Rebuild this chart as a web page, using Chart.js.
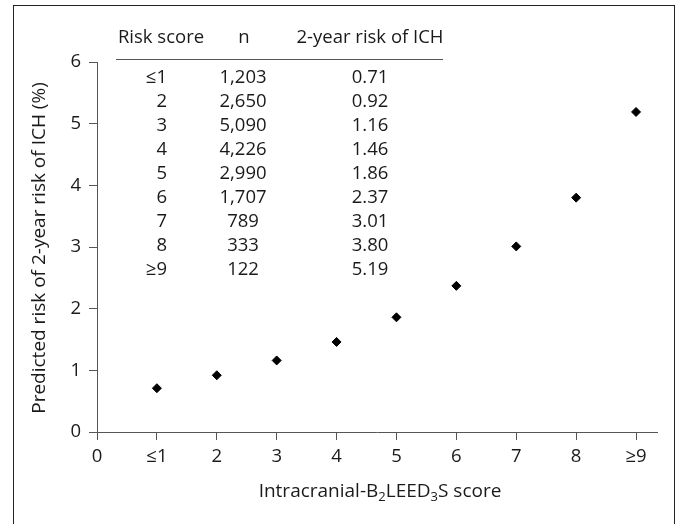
<!DOCTYPE html>
<html>
<head>
<meta charset="utf-8">
<script src="https://cdn.jsdelivr.net/npm/chart.js@4.4.1/dist/chart.umd.min.js"></script>
<style>
    html, body { margin: 0; padding: 0; background: #fff; }
    canvas { display: block; }
</style>
</head>
<body>
<canvas id="graficoRisco" width="678" height="524"></canvas>
<script>
var riskScores = ['≤1', '2', '3', '4', '5', '6', '7', '8', '≥9'];
var patients = [1203, 2650, 5090, 4226, 2990, 1707, 789, 333, 122];
var riskIch = [0.71, 0.92, 1.16, 1.46, 1.86, 2.37, 3.01, 3.80, 5.19];
var xTickLabels = ['0', '≤1', '2', '3', '4', '5', '6', '7', '8', '≥9'];
var yTickValues = [0, 1, 2, 3, 4, 5, 6];
var tableHeader = ['Risk score', 'n', '2-year risk of ICH'];
var yTitle = 'Predicted risk of 2-year risk of ICH (%)';

(function (window, document) {
    'use strict';

    var FONT = '"Open Sans", "Noto Sans", sans-serif';
    var TEXT = '#1a1a1a';
    var LINE = '#555';

    var $canvas = document.getElementById('graficoRisco');

    // moldura + tabela + titulos dos eixos (x com subscritos)
    var extras = {
        id: 'extras',
        afterDraw: function (chart) {
            var ctx = chart.ctx;
            ctx.save();

            ctx.strokeStyle = '#222';
            ctx.lineWidth = 1;
            ctx.strokeRect(13.5, 5.5, 661, 600);

            ctx.fillStyle = TEXT;
            ctx.font = '18.5px ' + FONT;
            ctx.textBaseline = 'middle';

            ctx.textAlign = 'center';
            ctx.fillText(tableHeader[0], 161, 38);
            ctx.fillText(tableHeader[1], 244, 38);
            ctx.fillText(tableHeader[2], 370, 38);

            ctx.strokeStyle = LINE;
            ctx.beginPath();
            ctx.moveTo(116, 59.5);
            ctx.lineTo(443, 59.5);
            ctx.stroke();

            riskScores.forEach(function (score, i) {
                var y = 77.5 + i * 24;
                ctx.textAlign = 'right';
                ctx.fillText(score, 167, y);
                ctx.textAlign = 'center';
                ctx.fillText(patients[i].toLocaleString('en-US'), 243, y);
                ctx.fillText(riskIch[i].toFixed(2), 370, y);
            });

            ctx.save();
            ctx.translate(40, 248);
            ctx.rotate(-Math.PI / 2);
            ctx.font = '19px ' + FONT;
            ctx.fillText(yTitle, 0, 0);
            ctx.restore();

            var parts = [
                ['Intracranial-B', false],
                ['2', true],
                ['LEED', false],
                ['3', true],
                ['S score', false]
            ];
            var total = 0;
            parts.forEach(function (p) {
                ctx.font = (p[1] ? '13px ' : '19px ') + FONT;
                total += ctx.measureText(p[0]).width;
            });
            var x = 380 - total / 2;
            ctx.textAlign = 'left';
            ctx.textBaseline = 'alphabetic';
            parts.forEach(function (p) {
                ctx.font = (p[1] ? '13px ' : '19px ') + FONT;
                ctx.fillText(p[0], x, p[1] ? 501 : 497);
                x += ctx.measureText(p[0]).width;
            });

            ctx.restore();
        }
    };

    new Chart($canvas, {
        type: 'scatter',
        data: {
            datasets: [{
                data: riskIch.map(function (v, i) { return { x: i + 1, y: v }; }),
                pointStyle: 'rectRot',
                pointRadius: 4.5,
                borderWidth: 1,
                backgroundColor: '#000',
                borderColor: '#000'
            }]
        },
        options: {
            responsive: false,
            animation: false,
            layout: { padding: { left: 0, top: 62, right: 21, bottom: 0 } },
            plugins: {
                legend: { display: false },
                tooltip: { enabled: false }
            },
            scales: {
                x: {
                    type: 'linear',
                    min: 0,
                    max: 9.35,
                    afterBuildTicks: function (scale) {
                        scale.ticks = xTickLabels.map(function (l, i) { return { value: i }; });
                    },
                    afterFit: function (scale) { scale.height = 92; },
                    ticks: {
                        autoSkip: false,
                        maxRotation: 0,
                        padding: 6,
                        color: TEXT,
                        font: { family: FONT, size: 18.5 },
                        callback: function (v) { return xTickLabels[v]; }
                    },
                    grid: { drawOnChartArea: false, tickLength: 8, tickColor: LINE },
                    border: { color: LINE, width: 1 }
                },
                y: {
                    min: 0,
                    max: 6,
                    afterBuildTicks: function (scale) {
                        scale.ticks = yTickValues.map(function (v) { return { value: v }; });
                    },
                    afterFit: function (scale) { scale.width = 97; },
                    ticks: {
                        padding: 8,
                        color: TEXT,
                        font: { family: FONT, size: 18.5 }
                    },
                    grid: { drawOnChartArea: false, tickLength: 8, tickColor: LINE },
                    border: { color: LINE, width: 1 }
                }
            }
        },
        plugins: [extras]
    });
})(window, document);
</script>
</body>
</html>
